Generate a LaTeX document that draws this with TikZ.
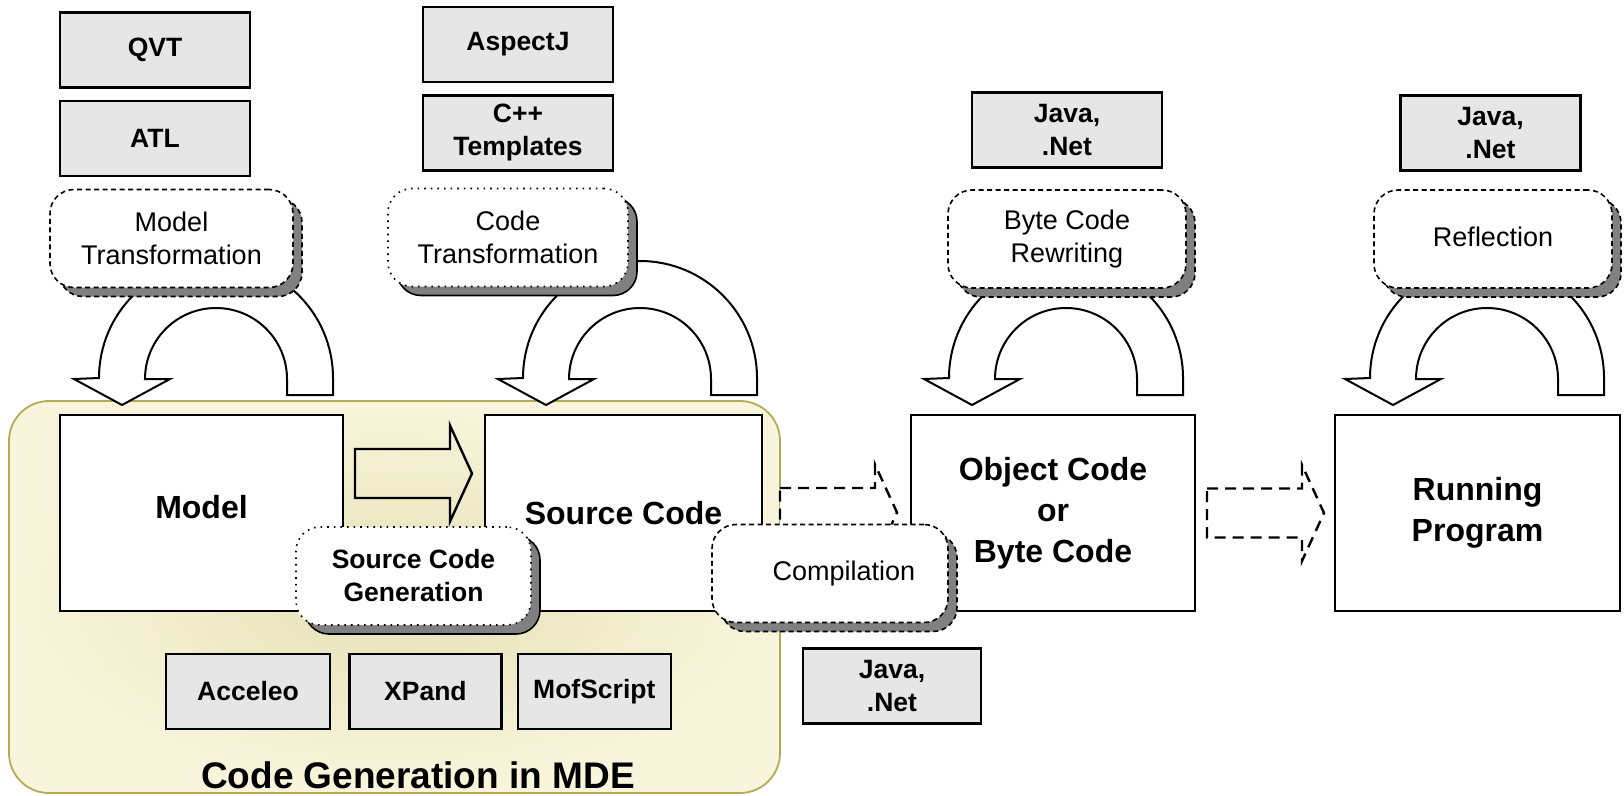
\documentclass[tikz,border=0pt]{standalone}
\usepackage{fontspec}
\setmainfont{Liberation Sans}
\usepackage{tikz}
\usetikzlibrary{shadows,positioning,calc}

\definecolor{boxgrey}{RGB}{230,230,230}
\definecolor{mdeIn}{RGB}{230,225,182}
\definecolor{mdeOut}{RGB}{248,245,220}
\definecolor{mdeLine}{RGB}{180,170,85}
\definecolor{shadowgrey}{RGB}{128,128,128}

\newcommand\reglab{\fontsize{27}{33}\selectfont}
\newcommand\boldlab{\fontsize{26.5}{33}\selectfont\bfseries}
\newcommand\biglab{\fontsize{32}{41}\selectfont\bfseries}
\newcommand\titlelab{\fontsize{37}{40}\selectfont\bfseries}

% u-turn arrow around a centre coordinate
\newcommand\uarrow[1]{%
  \draw[uturn, shift={(#1)}] (-94,27) -- (-46,1) -- (-71,1)
    arc[start angle=180, end angle=360, radius=71] -- (71,17) -- (117,17) -- (117,0)
    arc[start angle=0, end angle=-180, radius=117] -- (-142,1) -- cycle;}
% fat horizontal arrow from its left middle
\newcommand\fatarrow[3][]{%
  \draw[#1, shift={(#2)}] (0,-24.5) -- (#3,-24.5) -- (#3,-48) -- ({#3+22},0)
    -- (#3,48) -- (#3,24.5) -- (0,24.5) -- cycle;}

\begin{document}
\begin{tikzpicture}[x=1pt, y=-1pt]
% STYLES
\tikzset{
    greybox/.style={draw, line width=2.4pt, fill=boxgrey, align=center,
    font=\boldlab, minimum height=75pt, inner sep=0pt},
    bigbox/.style={draw, line width=2.4pt, fill=white, align=center,
    font=\biglab, minimum height=196pt, inner sep=0pt},
    roundbox/.style={draw, rounded corners=24pt, fill=white, align=center,
    font=\reglab, line width=1.6pt, inner sep=0pt, minimum height=98pt},
    dashbox/.style={roundbox, dash pattern=on 5pt off 3.5pt,
    general shadow={fill=shadowgrey, draw=black, line width=1.6pt,
      shadow xshift=9pt, shadow yshift=-9pt}},
    dotbox/.style={roundbox, dash pattern=on 1.6pt off 5pt,
    general shadow={fill=shadowgrey, draw=black, solid, line width=1.6pt,
      shadow xshift=9pt, shadow yshift=-9pt}},
    uturn/.style={draw, fill=white, line width=2pt, line join=miter},
    genarrow/.style={draw, line width=2.4pt},
    comparrow/.style={draw, fill=white, line width=2.4pt, dash pattern=on 11pt off 7pt}
}
\useasboundingbox (0,0) rectangle (1624,795);

% background of code generation
\shadedraw[inner color=mdeIn, outer color=mdeOut, draw=mdeLine, line width=1.8pt,
  rounded corners=40pt] (9,401) rectangle (780,793);

% u-turns
\coordinate (mtU) at (216,378);
\coordinate (ctU) at (640,378);
\coordinate (bcU) at (1066,378);
\coordinate (rfU) at (1487,378);
\foreach \u in {mtU,ctU,bcU,rfU}
  \uarrow{\u};

% main artefacts
\node [bigbox, minimum width=283pt] (Model) at (201.5,513) {\raisebox{12pt}{Model}};
\node [bigbox, minimum width=277pt] (Source) at (623.5,513) {Source Code};
\node [bigbox, minimum width=284pt] (Object) at (1053,513) {Object Code\\or\\Byte Code};
\node [bigbox, minimum width=285pt] (Running) at (1477.5,513) {Running\\Program};

% Draw the arrows between
\coordinate (genL) at (355,473.5);
\coordinate (compL) at (780,512.5);
\coordinate (runL) at (1207,513);
\fatarrow[genarrow]{genL}{95}
\fatarrow[comparrow]{compL}{95}
\fatarrow[comparrow]{runL}{95}

% transformations
\node [dashbox, minimum width=243pt] (ModelTrans) at (171.5,238.5) {Model\\Transformation};
\node [dotbox, minimum width=240pt] (CodeTrans) at (508,237.5) {Code\\Transformation};
\node [dashbox, minimum width=238pt] (Rewriting) at (1067,239) {Byte Code\\Rewriting};
\node [dashbox, minimum width=238pt] (Reflection) at (1493,239) {\raisebox{5pt}{Reflection}};
\node [dotbox, minimum width=235pt, font=\boldlab] (SrcGen) at (413.5,576) {Source Code\\Generation};
\node [dashbox, minimum width=236pt] (Compilation) at (830,573.5) {\hspace*{28pt}Compilation};

% tools
\node [greybox, minimum width=190pt] (QVT) at (155,50) {QVT};
\node [greybox, minimum width=190pt, below=11pt of QVT] (ATL) {ATL};
\node [greybox, minimum width=190pt] (AspectJ) at (518,44.5) {AspectJ};
\node [greybox, minimum width=190pt, below=11pt of AspectJ] (Cpp) {C++\\Templates};
\node [greybox, minimum width=190pt] (JavaBC) at (1067,130) {Java,\\.Net};
\node [greybox, minimum width=180pt] (JavaRef) at (1490.5,133) {Java,\\.Net};
\node [greybox, minimum width=178pt] (JavaComp) at (892,686) {Java,\\.Net};
\node [greybox, minimum width=164pt] (Acceleo) at (248,691.5) {Acceleo};
\node [greybox, minimum width=152pt, right=17pt of Acceleo] (XPand) {XPand};
\node [greybox, minimum width=153pt, right=14pt of XPand] (MofScript) {MofScript};

\node [font=\titlelab] (MDE) at (418,775) {Code Generation in MDE};
\end{tikzpicture}
\end{document}
